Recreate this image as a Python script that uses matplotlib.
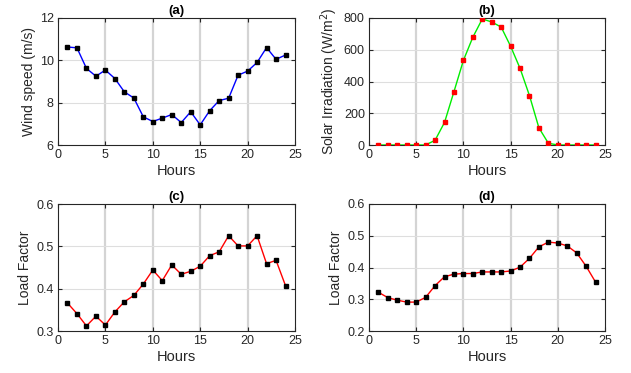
import matplotlib
matplotlib.use("Agg")
import matplotlib.pyplot as plt

plt.rcParams['font.family'] = ['Liberation Sans', 'DejaVu Sans']

hours = list(range(1, 25))
wind_speed = [10.63, 10.59, 9.62, 9.25, 9.54, 9.14, 8.51, 8.22, 7.33, 7.11, 7.27, 7.44,
              7.06, 7.57, 6.95, 7.62, 8.10, 8.21, 9.30, 9.49, 9.90, 10.60, 10.05, 10.25]
solar = [0, 0, 0, 0, 0, 0, 30, 142, 336, 533, 679, 794,
         775, 743, 622, 483, 311, 108, 11, 0, 0, 0, 0, 0]
load_c = [0.366, 0.341, 0.312, 0.335, 0.314, 0.345, 0.369, 0.384, 0.411, 0.444, 0.419, 0.456,
          0.434, 0.441, 0.453, 0.478, 0.487, 0.525, 0.501, 0.501, 0.525, 0.459, 0.467, 0.407]
load_d = [0.322, 0.305, 0.297, 0.291, 0.291, 0.306, 0.343, 0.371, 0.379, 0.381, 0.381, 0.386,
          0.386, 0.386, 0.389, 0.401, 0.429, 0.465, 0.480, 0.477, 0.468, 0.446, 0.404, 0.354]

fig = plt.figure(figsize=(6.31, 3.73), dpi=100)
W, H = 631, 373

def make_ax(l, r, t, b):
    return fig.add_axes([l / W, 1 - b / H, (r - l) / W, (b - t) / H])

axa = make_ax(58, 295, 18, 145)
axb = make_ax(369, 605, 18, 145)
axc = make_ax(58, 295, 204, 331)
axd = make_ax(369, 605, 204, 331)

def style(ax, title, ylabel, ylim, yticks):
    ax.set_xlim(0, 25)
    ax.set_xticks([0, 5, 10, 15, 20, 25])
    ax.set_ylim(*ylim)
    ax.set_yticks(yticks)
    for x in [5, 10, 15, 20]:
        ax.axvline(x, color='#d4d4d4', lw=1.6, zorder=0)
    for y in yticks[1:-1]:
        ax.axhline(y, color='#dedede', lw=0.8, zorder=0)
    ax.tick_params(direction='in', top=True, right=True, labelsize=9,
                   colors='#262626', length=3, width=0.8, pad=3)
    for s in ax.spines.values():
        s.set_color('#262626')
        s.set_linewidth(0.8)
    ax.set_title(title, fontsize=9.5, fontweight='bold', pad=3, color='#000000')
    ax.set_xlabel('Hours', fontsize=10.5, color='#262626', labelpad=2)
    ax.set_ylabel(ylabel, fontsize=10, color='#262626', labelpad=3)

axa.plot(hours, wind_speed, color='#0000ff', lw=1.0, marker='s', ms=2.8,
         mfc='black', mec='black', zorder=3)
style(axa, '(a)', 'Wind speed (m/s)', (6, 12), [6, 8, 10, 12])

axb.plot(hours, solar, color='#00ee00', lw=1.0, marker='s', ms=2.8,
         mfc='#ff0000', mec='#ff0000', zorder=3)
style(axb, '(b)', 'Solar Irradiation (W/m$^2$)', (0, 800), [0, 200, 400, 600, 800])

axc.plot(hours, load_c, color='#ff0000', lw=1.0, marker='s', ms=2.8,
         mfc='black', mec='black', zorder=3)
style(axc, '(c)', 'Load Factor', (0.3, 0.6), [0.3, 0.4, 0.5, 0.6])

axd.plot(hours, load_d, color='#ff0000', lw=1.0, marker='s', ms=2.8,
         mfc='black', mec='black', zorder=3)
style(axd, '(d)', 'Load Factor', (0.2, 0.6), [0.2, 0.3, 0.4, 0.5, 0.6])

fig.savefig('out.png', dpi=100)
